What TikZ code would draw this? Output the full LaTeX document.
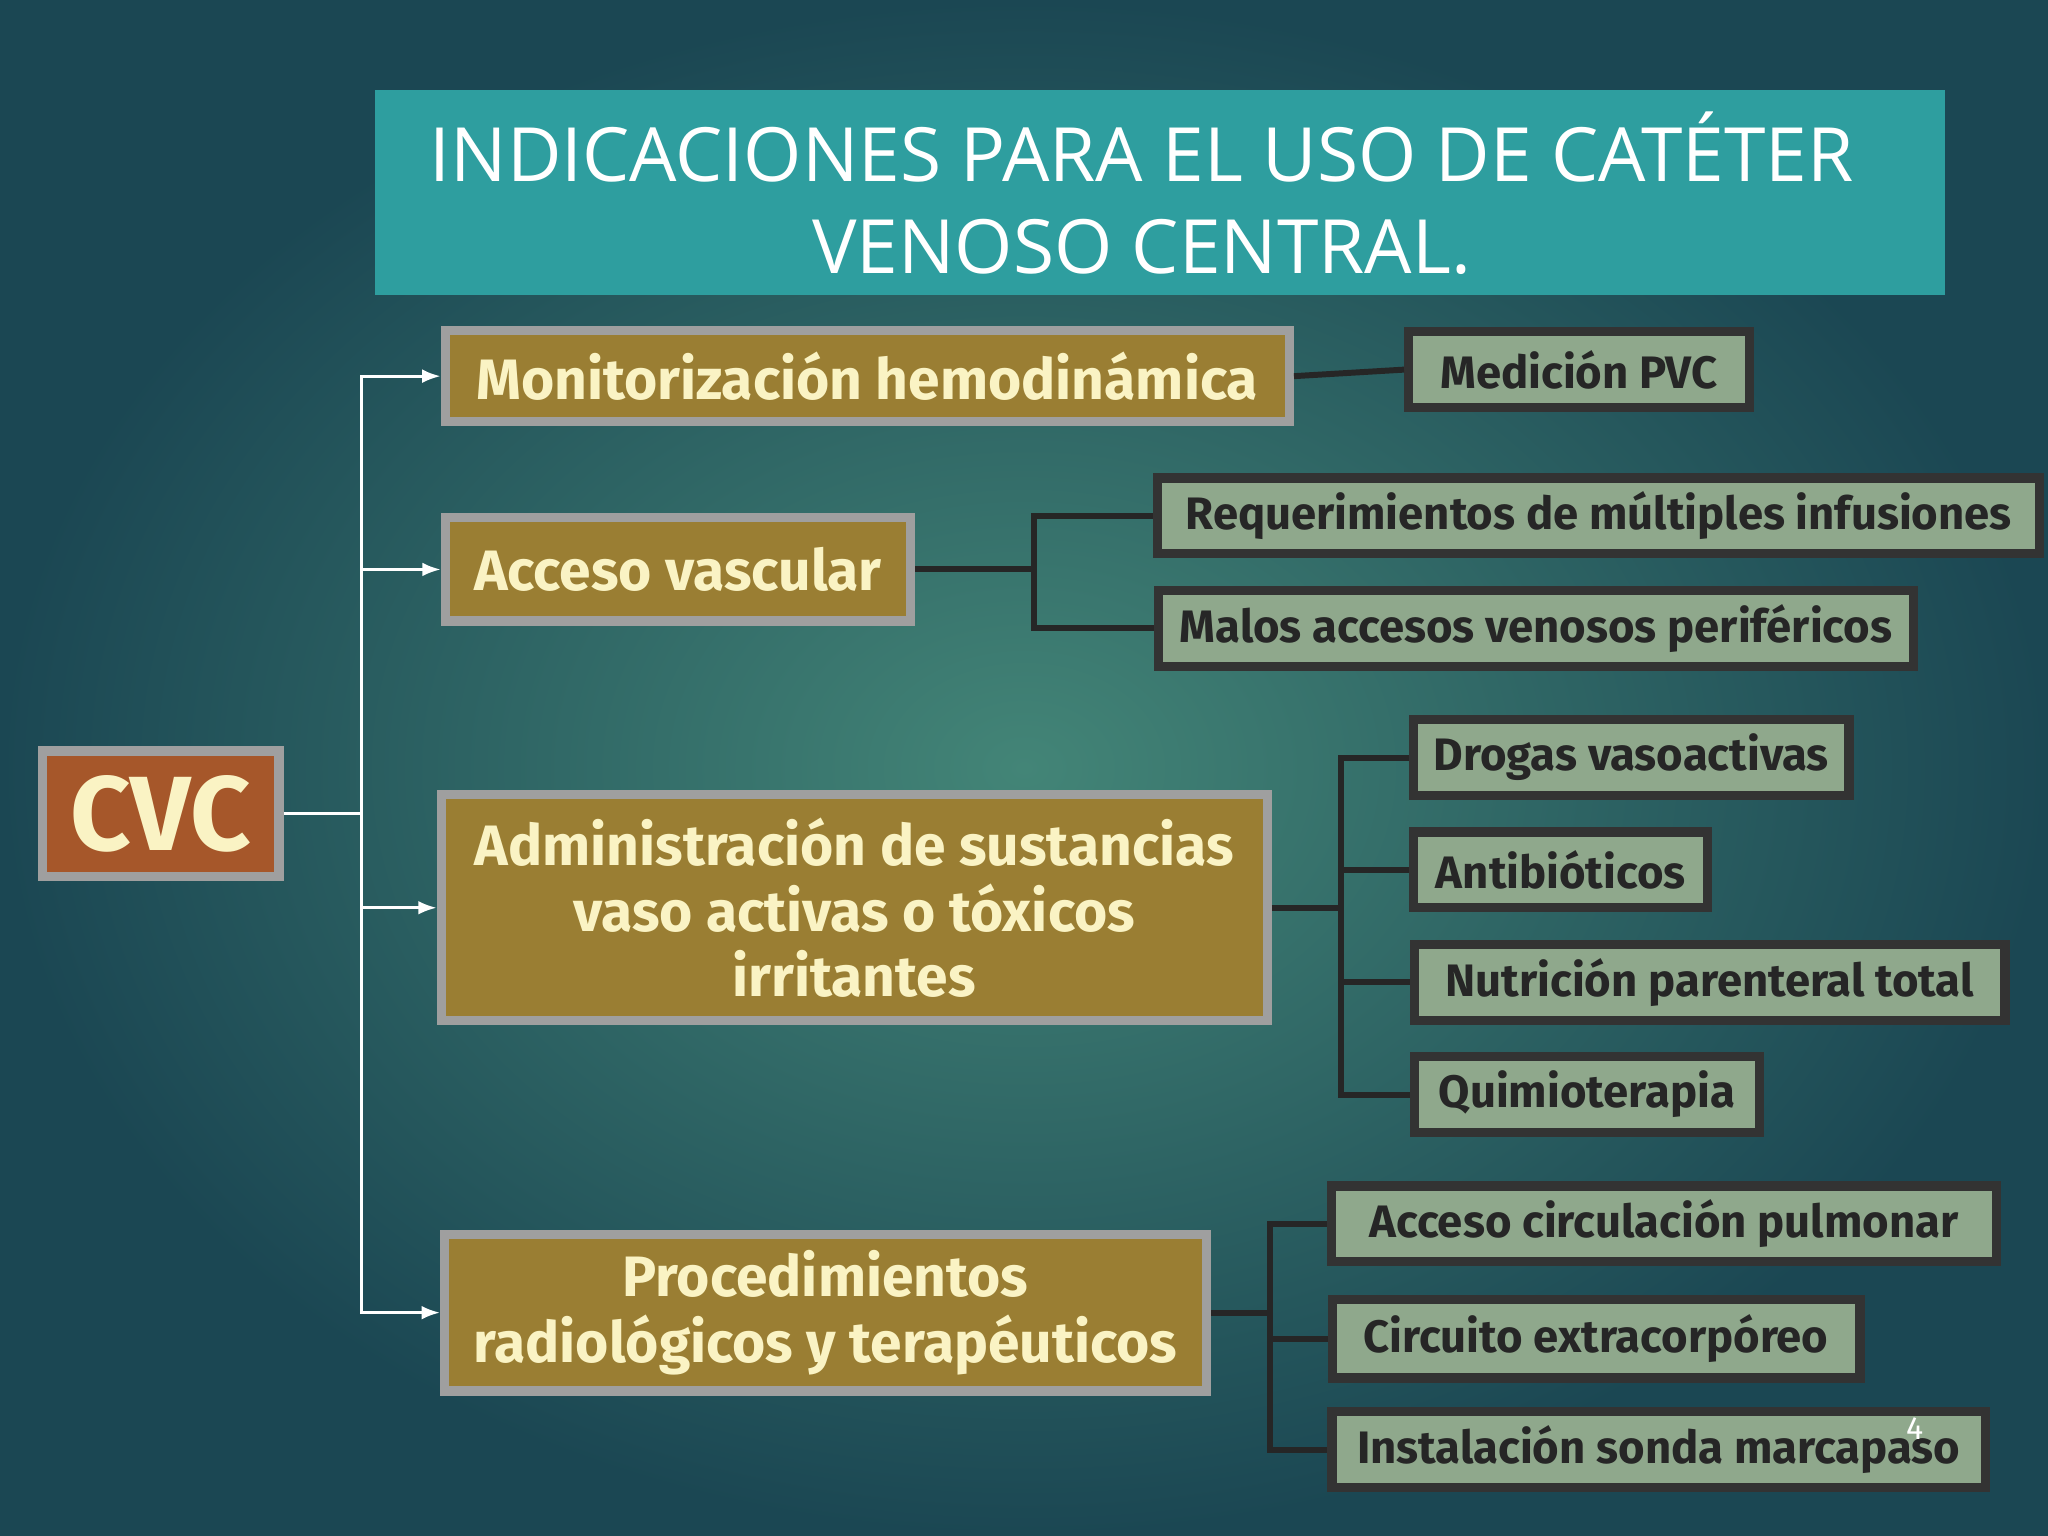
\documentclass[tikz,border=0pt]{standalone}
\usepackage{fontspec}
\setmainfont{Fira Sans}
\newfontfamily\titlefont{Open Sans}
\usetikzlibrary{positioning,arrows.meta}
\definecolor{bgin}{HTML}{438577}
\definecolor{bgout}{HTML}{1B4753}
\definecolor{titlebg}{HTML}{2E9E9F}
\definecolor{gold}{HTML}{9A7E33}
\definecolor{goldtxt}{HTML}{FAF3C4}
\definecolor{sage}{HTML}{8FA88C}
\definecolor{rust}{HTML}{A6572A}
\tikzset{
  main/.style={draw=gray!75, line width=2pt, fill=gold, text=goldtxt,
    font=\fontsize{12.4}{14.2}\selectfont\bfseries, align=center, inner sep=0pt},
  sub/.style={draw=black!80, line width=2pt, fill=sage, text=black!85,
    font=\fontsize{9.9}{12}\selectfont\bfseries, inner sep=0pt, minimum height=0.58cm},
  feed/.style={white, line width=0.6pt, -{Latex[length=4pt]}},
  link/.style={black!85, line width=1.3pt},
}
\begin{document}
\begin{tikzpicture}[x=0.01cm, y=-0.01cm]
    \useasboundingbox (0,0) rectangle (1568,1176);
    \shade[inner color=bgin, outer color=bgout] (0,0) rectangle (1568,1176);
    % title
    \fill[titlebg] (287,69) rectangle (1489,226);
    \node[text=white, font=\titlefont\fontsize{16.3}{20}\selectfont, align=center]
      (title) at (874,148) {INDICACIONES PARA EL USO DE CATÉTER\\VENOSO CENTRAL.};
    % root
    \node[draw=gray!75, line width=2pt, fill=rust, text=goldtxt, minimum width=1.81cm,
      minimum height=0.96cm, font=\fontsize{23}{25}\selectfont\bfseries] (cvc) at (123,623) {CVC};
    % main branches
    \node[main, minimum width=6.46cm, minimum height=0.70cm] (mon) at (664,288) {Monitorización hemodinámica};
    \node[main, minimum width=3.56cm, minimum height=0.79cm] (acc) at (519,436) {Acceso vascular};
    \node[main, minimum width=6.32cm, minimum height=1.73cm] (adm) at (654,695)
      {Administración de sustancias\\vaso activas o tóxicos\\irritantes};
    \node[main, minimum width=5.83cm, minimum height=1.20cm] (proc) at (632,1005)
      {Procedimientos\\radiológicos y terapéuticos};
    % leaves
    \node[sub, minimum width=2.61cm] (pvc) at (1209,283) {Medición PVC};
    \node[sub, minimum width=6.75cm] (req) at (1224,395) {Requerimientos de múltiples infusiones};
    \node[sub, minimum width=5.78cm] (mal) at (1176,481) {Malos accesos venosos periféricos};
    \node[sub, minimum width=3.33cm] (dro) at (1249,580) {Drogas vasoactivas};
    \node[sub, minimum width=2.25cm] (ant) at (1195,666) {Antibióticos};
    \node[sub, minimum width=4.52cm] (nut) at (1309,752) {Nutrición parenteral total};
    \node[sub, minimum width=2.64cm] (qui) at (1215,838) {Quimioterapia};
    \node[sub, minimum width=5.09cm] (pul) at (1274,937) {Acceso circulación pulmonar};
    \node[sub, minimum width=4.04cm, minimum height=0.60cm] (ext) at (1222,1025) {Circuito extracorpóreo};
    \node[sub, minimum width=5.00cm] (mar) at (1270,1110) {Instalación sonda marcapaso};
    \node[white, font=\scriptsize] (pag) at (1466,1094) {4};
    % root to main branches
    \draw[white, line width=0.6pt] (cvc.east) -- (277,623) coordinate (sp);
    \foreach \m in {mon,acc,adm,proc}
      \draw[feed] (sp) |- (\m.west);
    % main branches to leaves
    \draw[link] (mon.east) -- (pvc.west);
    \draw[link] (acc.east) -- (792,436) coordinate (b2);
    \foreach \s in {req,mal} \draw[link] (b2) |- (\s.west);
    \draw[link] (adm.east) -- (1027,695) coordinate (b3);
    \foreach \s in {dro,ant,nut,qui} \draw[link] (b3) |- (\s.west);
    \draw[link] (proc.east) -- (972,1005) coordinate (b4);
    \foreach \s in {pul,ext,mar} \draw[link] (b4) |- (\s.west);
\end{tikzpicture}
\end{document}
